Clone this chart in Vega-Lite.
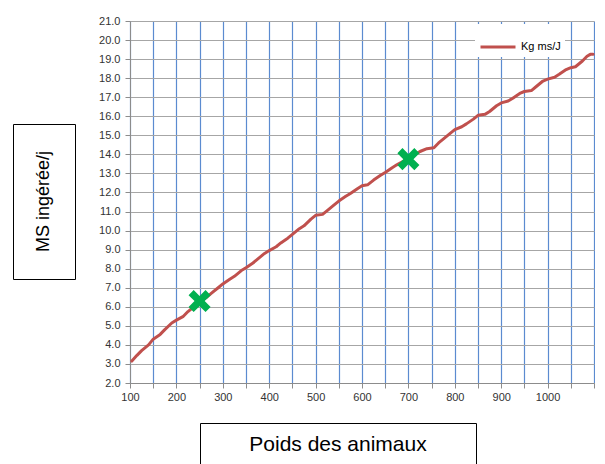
{
  "$schema": "https://vega.github.io/schema/vega-lite/v6.json",
  "padding": {"left": 12, "top": 15, "right": 0, "bottom": 0},
  "background": "white",
  "config": {"view": {"stroke": null}, "concat": {"spacing": 0}},
  "datasets": {
    "courbe": [
      {"poids": 104, "ms": 3.15, "serie": "Kg ms/J"},
      {"poids": 115, "ms": 3.45, "serie": "Kg ms/J"},
      {"poids": 125, "ms": 3.7, "serie": "Kg ms/J"},
      {"poids": 140, "ms": 4.0, "serie": "Kg ms/J"},
      {"poids": 150, "ms": 4.3, "serie": "Kg ms/J"},
      {"poids": 165, "ms": 4.55, "serie": "Kg ms/J"},
      {"poids": 175, "ms": 4.8, "serie": "Kg ms/J"},
      {"poids": 190, "ms": 5.15, "serie": "Kg ms/J"},
      {"poids": 200, "ms": 5.3, "serie": "Kg ms/J"},
      {"poids": 215, "ms": 5.5, "serie": "Kg ms/J"},
      {"poids": 225, "ms": 5.75, "serie": "Kg ms/J"},
      {"poids": 240, "ms": 6.05, "serie": "Kg ms/J"},
      {"poids": 250, "ms": 6.25, "serie": "Kg ms/J"},
      {"poids": 265, "ms": 6.5, "serie": "Kg ms/J"},
      {"poids": 275, "ms": 6.7, "serie": "Kg ms/J"},
      {"poids": 290, "ms": 7.0, "serie": "Kg ms/J"},
      {"poids": 300, "ms": 7.2, "serie": "Kg ms/J"},
      {"poids": 315, "ms": 7.45, "serie": "Kg ms/J"},
      {"poids": 325, "ms": 7.6, "serie": "Kg ms/J"},
      {"poids": 340, "ms": 7.9, "serie": "Kg ms/J"},
      {"poids": 350, "ms": 8.05, "serie": "Kg ms/J"},
      {"poids": 365, "ms": 8.3, "serie": "Kg ms/J"},
      {"poids": 375, "ms": 8.5, "serie": "Kg ms/J"},
      {"poids": 390, "ms": 8.8, "serie": "Kg ms/J"},
      {"poids": 400, "ms": 8.95, "serie": "Kg ms/J"},
      {"poids": 415, "ms": 9.15, "serie": "Kg ms/J"},
      {"poids": 425, "ms": 9.35, "serie": "Kg ms/J"},
      {"poids": 440, "ms": 9.6, "serie": "Kg ms/J"},
      {"poids": 450, "ms": 9.8, "serie": "Kg ms/J"},
      {"poids": 465, "ms": 10.1, "serie": "Kg ms/J"},
      {"poids": 475, "ms": 10.25, "serie": "Kg ms/J"},
      {"poids": 490, "ms": 10.6, "serie": "Kg ms/J"},
      {"poids": 500, "ms": 10.8, "serie": "Kg ms/J"},
      {"poids": 515, "ms": 10.85, "serie": "Kg ms/J"},
      {"poids": 525, "ms": 11.05, "serie": "Kg ms/J"},
      {"poids": 540, "ms": 11.35, "serie": "Kg ms/J"},
      {"poids": 550, "ms": 11.55, "serie": "Kg ms/J"},
      {"poids": 565, "ms": 11.8, "serie": "Kg ms/J"},
      {"poids": 575, "ms": 11.95, "serie": "Kg ms/J"},
      {"poids": 590, "ms": 12.2, "serie": "Kg ms/J"},
      {"poids": 600, "ms": 12.35, "serie": "Kg ms/J"},
      {"poids": 612, "ms": 12.4, "serie": "Kg ms/J"},
      {"poids": 625, "ms": 12.65, "serie": "Kg ms/J"},
      {"poids": 640, "ms": 12.9, "serie": "Kg ms/J"},
      {"poids": 650, "ms": 13.05, "serie": "Kg ms/J"},
      {"poids": 665, "ms": 13.3, "serie": "Kg ms/J"},
      {"poids": 675, "ms": 13.45, "serie": "Kg ms/J"},
      {"poids": 690, "ms": 13.65, "serie": "Kg ms/J"},
      {"poids": 700, "ms": 13.75, "serie": "Kg ms/J"},
      {"poids": 712, "ms": 13.95, "serie": "Kg ms/J"},
      {"poids": 725, "ms": 14.15, "serie": "Kg ms/J"},
      {"poids": 740, "ms": 14.3, "serie": "Kg ms/J"},
      {"poids": 755, "ms": 14.35, "serie": "Kg ms/J"},
      {"poids": 765, "ms": 14.6, "serie": "Kg ms/J"},
      {"poids": 775, "ms": 14.8, "serie": "Kg ms/J"},
      {"poids": 790, "ms": 15.1, "serie": "Kg ms/J"},
      {"poids": 800, "ms": 15.3, "serie": "Kg ms/J"},
      {"poids": 815, "ms": 15.45, "serie": "Kg ms/J"},
      {"poids": 825, "ms": 15.6, "serie": "Kg ms/J"},
      {"poids": 840, "ms": 15.85, "serie": "Kg ms/J"},
      {"poids": 850, "ms": 16.05, "serie": "Kg ms/J"},
      {"poids": 865, "ms": 16.1, "serie": "Kg ms/J"},
      {"poids": 875, "ms": 16.25, "serie": "Kg ms/J"},
      {"poids": 890, "ms": 16.55, "serie": "Kg ms/J"},
      {"poids": 900, "ms": 16.7, "serie": "Kg ms/J"},
      {"poids": 915, "ms": 16.8, "serie": "Kg ms/J"},
      {"poids": 925, "ms": 16.95, "serie": "Kg ms/J"},
      {"poids": 940, "ms": 17.2, "serie": "Kg ms/J"},
      {"poids": 950, "ms": 17.3, "serie": "Kg ms/J"},
      {"poids": 965, "ms": 17.35, "serie": "Kg ms/J"},
      {"poids": 975, "ms": 17.55, "serie": "Kg ms/J"},
      {"poids": 990, "ms": 17.85, "serie": "Kg ms/J"},
      {"poids": 1000, "ms": 17.95, "serie": "Kg ms/J"},
      {"poids": 1015, "ms": 18.05, "serie": "Kg ms/J"},
      {"poids": 1025, "ms": 18.2, "serie": "Kg ms/J"},
      {"poids": 1040, "ms": 18.45, "serie": "Kg ms/J"},
      {"poids": 1050, "ms": 18.55, "serie": "Kg ms/J"},
      {"poids": 1060, "ms": 18.6, "serie": "Kg ms/J"},
      {"poids": 1075, "ms": 18.9, "serie": "Kg ms/J"},
      {"poids": 1085, "ms": 19.15, "serie": "Kg ms/J"},
      {"poids": 1092, "ms": 19.25, "serie": "Kg ms/J"},
      {"poids": 1098, "ms": 19.25, "serie": "Kg ms/J"}
    ],
    "reperes": [
      {"poids": 250, "ms": 6.3},
      {"poids": 700, "ms": 13.75}
    ]
  },
  "vconcat": [
    {
      "hconcat": [
        {
          "vconcat": [
            {
              "data": {"values": [{"vide": ""}]},
              "width": 62,
              "height": 102,
              "mark": {"type": "point", "opacity": 0},
              "encoding": {}
            },
            {
              "data": {"values": [{"titre": "MS ingérée/j"}]},
              "width": 62,
              "height": 155,
              "view": {"stroke": "#000000", "strokeWidth": 1, "fill": "white"},
              "mark": {"type": "text", "angle": 270, "font": "Liberation Sans", "fontSize": 18, "color": "#000000", "baseline": "middle", "align": "center"},
              "encoding": {"text": {"field": "titre", "type": "nominal"}}
            }
          ]
        },
        {
          "width": 464,
          "height": 362,
          "encoding": {
            "x": {
              "field": "poids", "type": "quantitative",
              "scale": {"domain": [100, 1100], "nice": false, "zero": false},
              "axis": {
                "title": null,
                "values": [100, 150, 200, 250, 300, 350, 400, 450, 500, 550, 600, 650, 700, 750, 800, 850, 900, 950, 1000, 1050, 1100],
                "labelExpr": "(datum.value % 100 === 0 && datum.value <= 1000) ? datum.value : ''",
                "grid": true, "gridColor": "#5B8BD0", "gridWidth": 1.2,
                "domainColor": "#8C8C8C", "domainWidth": 1,
                "tickColor": "#8C8C8C", "tickSize": 5,
                "labelFont": "Liberation Sans", "labelFontSize": 11, "labelColor": "#333333",
                "labelPadding": 3, "labelFlush": false, "labelOverlap": false
              }
            },
            "y": {
              "field": "ms", "type": "quantitative",
              "scale": {"domain": [2, 21], "nice": false, "zero": false},
              "axis": {
                "title": null,
                "values": [2, 3, 4, 5, 6, 7, 8, 9, 10, 11, 12, 13, 14, 15, 16, 17, 18, 19, 20, 21],
                "format": ".1f",
                "grid": true, "gridColor": "#A6A6A6", "gridWidth": 1.2,
                "domainColor": "#8C8C8C", "domainWidth": 1,
                "tickColor": "#8C8C8C", "tickSize": 5,
                "labelFont": "Liberation Sans", "labelFontSize": 11, "labelColor": "#333333",
                "labelPadding": 5, "labelFlush": false, "labelOverlap": false
              }
            }
          },
          "layer": [
            {
              "data": {"name": "courbe"},
              "mark": {"type": "line", "strokeWidth": 3, "strokeCap": "round", "strokeJoin": "round"},
              "encoding": {
                "color": {
                  "field": "serie", "type": "nominal",
                  "scale": {"range": ["#C0504D"]},
                  "legend": {
                    "title": null, "orient": "none", "legendX": 462, "legendY": 3,
                    "fillColor": "white", "padding": 4,
                    "symbolType": "stroke", "symbolSize": 1225, "symbolStrokeWidth": 3,
                    "labelFont": "Liberation Sans", "labelFontSize": 11, "labelColor": "#000000", "labelOffset": 4
                  }
                }
              }
            },
            {
              "data": {"name": "reperes"},
              "mark": {
                "type": "point",
                "shape": "M-1,-0.3L-0.3,-0.3L-0.3,-1L0.3,-1L0.3,-0.3L1,-0.3L1,0.3L0.3,0.3L0.3,1L-0.3,1L-0.3,0.3L-1,0.3Z",
                "angle": 45, "size": 576, "filled": true, "color": "#00B050", "opacity": 1
              }
            }
          ]
        }
      ],
      "spacing": 22
    },
    {
      "hconcat": [
        {
          "data": {"values": [{"vide": ""}]},
          "width": 186,
          "height": 10,
          "mark": {"type": "point", "opacity": 0},
          "encoding": {}
        },
        {
          "data": {"values": [{"titre": "Poids des animaux"}]},
          "width": 276,
          "height": 44,
          "view": {"stroke": "#000000", "strokeWidth": 1, "fill": "white"},
          "mark": {"type": "text", "font": "Liberation Sans", "fontSize": 21, "color": "#000000", "baseline": "middle", "align": "center"},
          "encoding": {"text": {"field": "titre", "type": "nominal"}}
        }
      ],
      "spacing": 0
    }
  ],
  "spacing": 20
}
